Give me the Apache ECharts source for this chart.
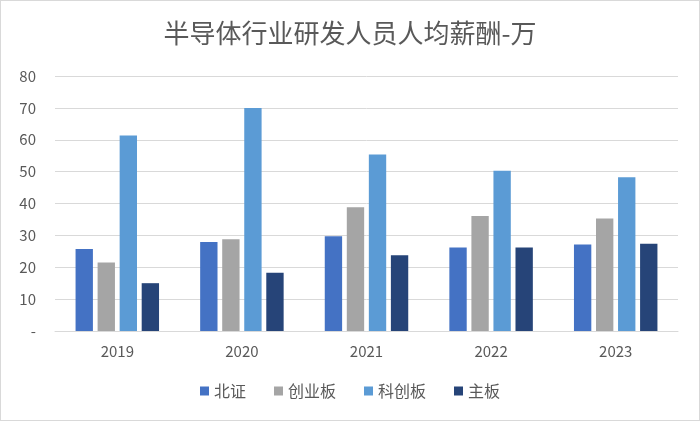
<!DOCTYPE html>
<html><head><meta charset="utf-8">
<script src="https://cdn.jsdelivr.net/npm/echarts@6/dist/echarts.min.js"></script>
<style>html,body{margin:0;padding:0;background:#fff}#c{width:698px;height:419px;border:1px solid #d9d9d9}</style>
</head><body><div id="c"></div>
<script>
const categories = ['2019','2020','2021','2022','2023'];
const beizheng = [25.7, 27.9, 29.7, 26.2, 27.1];
const chuangye = [21.5, 28.8, 38.8, 36.1, 35.3];
const kechuang = [61.3, 70.0, 55.4, 50.3, 48.2];
const zhuban = [15.0, 18.3, 23.8, 26.2, 27.4];
const seriesNames = ['北证','创业板','科创板','主板'];
const colors = ['#4472C4','#A5A5A5','#5B9BD5','#264478'];
const chart = echarts.init(document.getElementById('c'));
const font = '"Noto Sans CJK SC", "Noto Sans", sans-serif';
chart.setOption({
  animation:false,
  title:{text:'半导体行业研发人员人均薪酬-万',left:'center',top:14,textStyle:{fontFamily:font,fontSize:26,fontWeight:'normal',color:'#595959'}},
  legend:{bottom:16,itemWidth:9,itemHeight:9,itemGap:28,icon:'rect',textStyle:{fontFamily:font,fontSize:16,color:'#595959'},data:seriesNames},
  grid:{left:54,right:21,top:75,bottom:89},
  xAxis:{type:'category',data:categories,axisTick:{show:false},axisLine:{lineStyle:{color:'#d9d9d9'}},axisLabel:{fontFamily:font,fontSize:15,color:'#595959',margin:13}},
  yAxis:{type:'value',min:0,max:80,interval:10,axisLine:{show:false},axisTick:{show:false},splitLine:{lineStyle:{color:'#d9d9d9'}},axisLabel:{fontFamily:font,fontSize:15,color:'#595959',margin:19,formatter:v=>v===0?'-':v}},
  series:[beizheng,chuangye,kechuang,zhuban].map((d,i)=>({name:seriesNames[i],type:'bar',data:d,itemStyle:{color:colors[i]},barGap:'27%',barCategoryGap:'33%'}))
});
</script></body></html>
